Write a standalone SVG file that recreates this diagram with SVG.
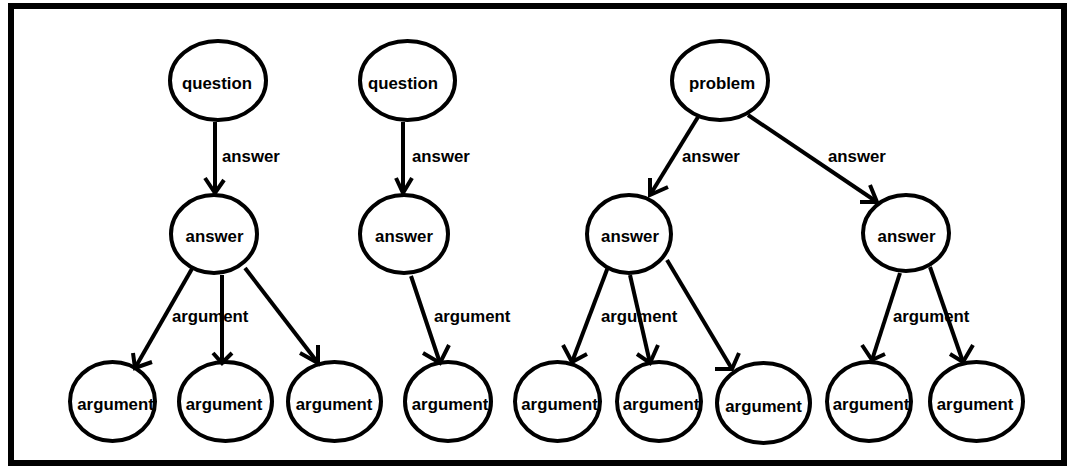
<svg xmlns="http://www.w3.org/2000/svg" width="1068" height="467" viewBox="0 0 1068 467">
<style>
.frame{fill:none;stroke:#000;stroke-width:6}
.node ellipse{fill:#fff;stroke:#000;stroke-width:4}
text{font-family:"Liberation Sans",Arial,sans-serif;font-weight:bold;font-size:16.8px;fill:#000}
.node text{text-anchor:middle}
.edge line,.edge polyline{fill:none;stroke:#000;stroke-width:4}
</style>
<rect x="0" y="0" width="1068" height="467" fill="#fff"/>
<rect class="frame" x="11" y="6" width="1053" height="457"/>

<g id="labels">
<text x="222" y="162">answer</text>
<text x="172" y="322">argument</text>
<text x="412" y="162">answer</text>
<text x="434" y="322">argument</text>
<text x="682" y="162">answer</text>
<text x="828" y="162">answer</text>
<text x="601" y="322">argument</text>
<text x="893" y="322">argument</text>
</g>

<g id="n-q1" class="node"><ellipse cx="218" cy="80.5" rx="48" ry="39.5"/><text x="217" y="89">question</text></g>
<g id="n-a1" class="node"><ellipse cx="214" cy="234" rx="43" ry="39"/><text x="214.5" y="242">answer</text></g>
<g id="n-g1" class="node"><ellipse cx="112.5" cy="401.5" rx="42.5" ry="39.5"/><text x="115.5" y="410">argument</text></g>
<g id="n-g2" class="node"><ellipse cx="225.5" cy="401.5" rx="46.5" ry="39.5"/><text x="224" y="410">argument</text></g>
<g id="n-g3" class="node"><ellipse cx="334.5" cy="401.5" rx="46.5" ry="39.5"/><text x="334" y="410">argument</text></g>

<g id="n-q2" class="node"><ellipse cx="407.5" cy="80.5" rx="47.5" ry="39.5"/><text x="403" y="89">question</text></g>
<g id="n-a2" class="node"><ellipse cx="404" cy="234" rx="44" ry="39"/><text x="404" y="242">answer</text></g>
<g id="n-g4" class="node"><ellipse cx="448" cy="401.5" rx="43" ry="39.5"/><text x="450" y="410">argument</text></g>

<g id="n-p" class="node"><ellipse cx="720" cy="80.5" rx="48" ry="39.5"/><text x="722" y="89">problem</text></g>
<g id="n-aL" class="node"><ellipse cx="629" cy="234" rx="42" ry="39"/><text x="630" y="242">answer</text></g>
<g id="n-aR" class="node"><ellipse cx="906" cy="233" rx="43" ry="38"/><text x="906.5" y="242">answer</text></g>
<g id="n-ga" class="node"><ellipse cx="557.5" cy="401.5" rx="42.5" ry="39.5"/><text x="559.5" y="410">argument</text></g>
<g id="n-gb" class="node"><ellipse cx="659" cy="401.5" rx="42" ry="39.5"/><text x="661" y="410">argument</text></g>
<g id="n-gc" class="node"><ellipse cx="763.5" cy="403" rx="46.5" ry="40"/><text x="763.5" y="412">argument</text></g>
<g id="n-gd" class="node"><ellipse cx="869" cy="401.5" rx="42" ry="39.5"/><text x="871" y="410">argument</text></g>
<g id="n-ge" class="node"><ellipse cx="976.5" cy="401.5" rx="46.5" ry="39.5"/><text x="975" y="410">argument</text></g>

<g id="connectors" class="edge">
<line x1="215" y1="122" x2="215" y2="193"/><polyline points="205,178 215,193 224,180"/>
<line x1="193" y1="267" x2="135" y2="368"/><polyline points="133,353 135,368 152,362"/>
<line x1="222" y1="275" x2="222" y2="363"/><polyline points="213,353 222,363 232,353"/>
<line x1="245" y1="268" x2="318" y2="363"/><polyline points="318,345 318,363 300,353"/>

<line x1="403" y1="122" x2="403" y2="193"/><polyline points="396,178 403,193 412,178"/>
<line x1="411" y1="276" x2="440" y2="363"/><polyline points="423,353 440,363 449,345"/>

<line x1="698" y1="117" x2="650" y2="195"/><polyline points="650,178 650,195 668,187"/>
<line x1="748" y1="115" x2="877" y2="202"/><polyline points="860,202 877,202 870,185"/>
<line x1="608" y1="267" x2="572" y2="362"/><polyline points="563,345 572,362 587,354"/>
<line x1="630" y1="275" x2="650" y2="363"/><polyline points="637,354 650,363 658,345"/>
<line x1="667" y1="260" x2="732" y2="369"/><polyline points="715,369 732,369 739,353"/>
<line x1="900" y1="273" x2="872" y2="360"/><polyline points="862,345 872,360 885,354"/>
<line x1="930" y1="267" x2="963" y2="362"/><polyline points="950,354 963,362 973,345"/>
</g>
</svg>
